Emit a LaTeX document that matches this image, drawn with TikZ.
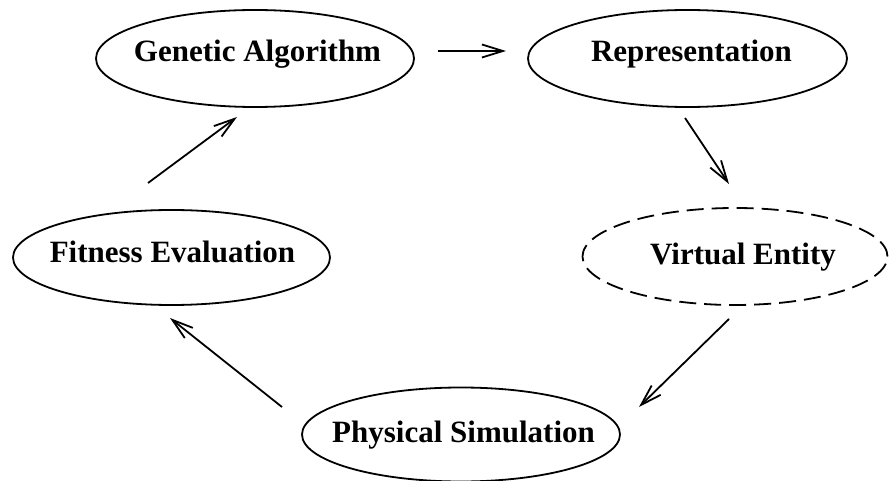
\documentclass[tikz,border=0pt]{standalone}
\usepackage{fontspec}
\setmainfont{Liberation Serif}
\usetikzlibrary{shapes.geometric,arrows.meta}
\tikzset{
  ell/.style={draw, ellipse, inner sep=0pt, line width=1.8pt},
  lbl/.style={anchor=base, inner sep=0pt, font=\bfseries\fontsize{31}{37}\selectfont},
  arr/.style={line width=1.8pt, -{Straight Barb[length=21pt,width=13pt,line width=1.8pt]}},
  dashedell/.style={ell, dash pattern=on 17pt off 8pt}
}
\begin{document}
\begin{tikzpicture}[x=1pt,y=-1pt]
\useasboundingbox (0,0) rectangle (889,481);
% ellipses
\node[ell, minimum width=318pt, minimum height=97pt] (ga) at (255,58.5) {};
\node[ell, minimum width=319pt, minimum height=97pt] (rep) at (687.5,58.5) {};
\node[dashedell, minimum width=305pt, minimum height=97pt] (ve) at (735,256.5) {};
\node[ell, minimum width=317pt, minimum height=95pt] (fe) at (171.5,257.5) {};
\node[ell, minimum width=318pt, minimum height=94pt] (ps) at (461,434.5) {};
% labels
\node[lbl] (gat) at (257.5,62) {Genetic Algorithm};
\node[lbl] (rept) at (691.5,62) {Representation};
\node[lbl] (vet) at (743,265) {Virtual Entity};
\node[lbl] (fet) at (172.5,262) {Fitness Evaluation};
\node[lbl] (pst) at (463.5,442) {Physical Simulation};
% connector ends
\coordinate (a1s) at (438,51);  \coordinate (a1e) at (506,51);
\coordinate (a2s) at (685,118); \coordinate (a2e) at (729,184);
\coordinate (a3s) at (729,319); \coordinate (a3e) at (639,407);
\coordinate (a4s) at (282,407); \coordinate (a4e) at (170,318);
\coordinate (a5s) at (148,183); \coordinate (a5e) at (237,117);
\draw[arr] (a1s) -- (a1e);
\draw[arr] (a2s) -- (a2e);
\draw[arr] (a3s) -- (a3e);
\draw[arr] (a4s) -- (a4e);
\draw[arr] (a5s) -- (a5e);
\end{tikzpicture}
\end{document}
